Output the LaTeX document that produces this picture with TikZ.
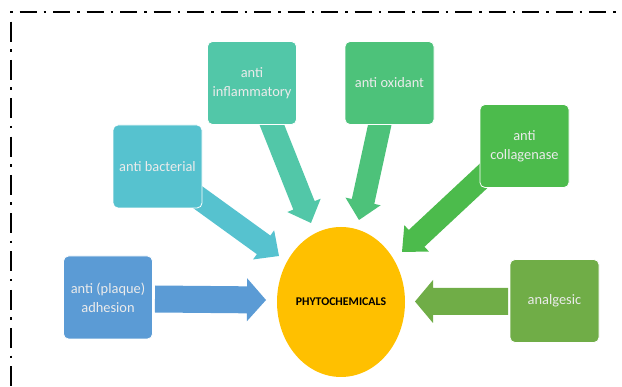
\documentclass[tikz,border=0pt]{standalone}
\usepackage{fontspec}
\setmainfont{Carlito}
\usepackage{xcolor}
\usepackage{tikz}
\usetikzlibrary{calc}
\usetikzlibrary{shapes.geometric}

\definecolor{adhcol}{HTML}{5B9BD5}
\definecolor{bactcol}{HTML}{56C2CF}
\definecolor{inflcol}{HTML}{52C7A8}
\definecolor{oxicol}{HTML}{4DC27A}
\definecolor{collcol}{HTML}{4CBB4C}
\definecolor{analcol}{HTML}{70AD47}
\definecolor{phytocol}{HTML}{FFC000}

% block arrow: start, tip, colour, half shaft, half head, head length
\newcommand{\blockarrow}[6]{%
	\coordinate (hb) at ($(#2)!#6!(#1)$);
	\fill[#3] ($(#1)!#4!90:(#2)$) -- ($(hb)!#4!-90:(#1)$) -- ($(hb)!#5!-90:(#1)$)
		-- (#2) -- ($(hb)!#5!90:(#1)$) -- ($(hb)!#4!90:(#1)$) -- ($(#1)!#4!-90:(#2)$) -- cycle;
}

\begin{document}
\begin{tikzpicture}[x=1pt, y=-1pt,
		effbox/.style={rounded corners=5pt, draw=white, line width=0.8pt,
			minimum width=89pt, minimum height=83pt, inner sep=2pt,
			text=white!92!black, align=center, font=\fontsize{14.4}{19}\selectfont},
		frameline/.style={line width=2pt, black}]

	\useasboundingbox (0,0) rectangle (622,387);

	% frame
	\draw[frameline, dash pattern=on 2.5pt off 7pt on 17pt off 7pt] (10,12.3) -- (622,12.3);
	\draw[frameline, dash pattern=on 20pt off 7.5pt on 2.5pt off 8.3pt] (11,21.7) -- (11,387);

	% arrow ends
	\coordinate (adhs) at (155,299);   \coordinate (adht) at (266,300);
	\coordinate (anas) at (508,301.5); \coordinate (anat) at (415,301.5);
	\coordinate (bacs) at (185,188);   \coordinate (bact) at (279,256);
	\coordinate (infs) at (266,110);   \coordinate (inft) at (311,223);
	\coordinate (oxis) at (383,110);   \coordinate (oxit) at (359,220);
	\coordinate (cols) at (492,168);   \coordinate (colt) at (402,252);

	\blockarrow{adhs}{adht}{adhcol}{13.5pt}{21.5pt}{19pt}
	\blockarrow{anas}{anat}{analcol}{13.5pt}{21.5pt}{18pt}
	\blockarrow{bacs}{bact}{bactcol}{11.5pt}{18pt}{19pt}
	\blockarrow{infs}{inft}{inflcol}{11.5pt}{18pt}{19pt}
	\blockarrow{oxis}{oxit}{oxicol}{11.5pt}{18pt}{19pt}
	\blockarrow{cols}{colt}{collcol}{11.5pt}{18pt}{20pt}

	% boxes
	\node[effbox, fill=adhcol] (adhesion) at (108,297.5) {anti (plaque)\\adhesion};
	\node[effbox, fill=bactcol] (bacterial) at (157.5,166.5) {anti bacterial};
	\node[effbox, fill=inflcol] (inflammatory) at (252,83) {anti\\inflammatory};
	\node[effbox, fill=oxicol] (oxidant) at (389.5,83) {anti oxidant};
	\node[effbox, fill=collcol] (collagenase) at (524.5,146) {anti\\collagenase};
	\node[effbox, fill=analcol] (analgesic) at (554.5,301) {analgesic};

	\node[ellipse, fill=phytocol, minimum width=128pt, minimum height=150pt, inner sep=0pt,
		font=\fontsize{11.8}{13}\selectfont\bfseries] (phyto) at (341,302) {PHYTOCHEMICALS};
\end{tikzpicture}
\end{document}
